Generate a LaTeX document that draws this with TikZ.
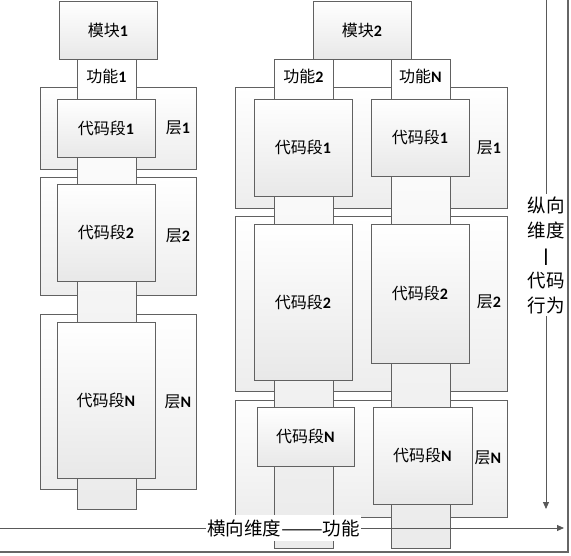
\documentclass[tikz,border=0pt]{standalone}
\usepackage{fontspec}
\usepackage{graphicx}
\setmainfont{Noto Sans CJK SC}
\setsansfont{Carlito}
\usepackage{tikz}
\usetikzlibrary{arrows.meta,positioning}
\newcommand{\nb}[1]{{\sffamily\bfseries #1}}

\begin{document}
\begin{tikzpicture}[
  x=1pt, y=-1pt,
  box/.style={draw=black!62, top color=white, bottom color=black!9,
              inner sep=0pt, font=\fontsize{16}{18}\selectfont},
  layer/.style={box, bottom color=black!7},
  strip/.style={box, bottom color=black!8},
  seg/.style={box},
  tag/.style={inner sep=1pt, font=\fontsize{16}{18}\selectfont},
  axis/.style={draw=black!65, line width=0.9pt, -{Triangle[length=7pt,width=6pt]}},
  alab/.style={fill=white, inner sep=1pt, font=\fontsize{18.5}{25}\selectfont}
]
  \useasboundingbox (0,0) rectangle (571,555);

  \node[layer, minimum width=156, minimum height=82]  (L11) at (118,128)   {};
  \node[layer, minimum width=156, minimum height=118] (L12) at (118,236)   {};
  \node[layer, minimum width=156, minimum height=175] (L1N) at (118,401.5) {};
  \node[layer, minimum width=272, minimum height=121] (L21) at (371,147.5) {};
  \node[layer, minimum width=272, minimum height=175] (L22) at (371,303.5) {};
  \node[layer, minimum width=272, minimum height=117] (L2N) at (371,458.5) {};

  \node[strip, minimum width=59, minimum height=450] (F1) at (106.5,284)   {};
  \node[strip, minimum width=59, minimum height=489] (F2) at (303.5,303.5) {};
  \node[strip, minimum width=59, minimum height=489] (FN) at (420.5,303.5) {};

  \node[seg, minimum width=98, minimum height=58]  (S11) at (106,128)   {代码段\nb{1}};
  \node[seg, minimum width=98, minimum height=97]  (S12) at (106,232.5) {代码段\nb{2}};
  \node[seg, minimum width=98, minimum height=156] (S1N) at (106,400)   {代码段\nb{N}};
  \node[seg, minimum width=98, minimum height=97]  (S21) at (303,147.5) {代码段\nb{1}};
  \node[seg, minimum width=98, minimum height=156] (S22) at (303,302)   {代码段\nb{2}};
  \node[seg, minimum width=97, minimum height=59]  (S2N) at (305.5,436.5) {代码段\nb{N}};
  \node[seg, minimum width=98, minimum height=77]  (SN1) at (420,137.5) {代码段\nb{1}};
  \node[seg, minimum width=98, minimum height=139] (SN2) at (420,293.5) {代码段\nb{2}};
  \node[seg, minimum width=99, minimum height=97]  (SNN) at (422.5,455.5) {代码段\nb{N}};

  \node[box, minimum width=98, minimum height=58] (M1) at (108,30) {模块\nb{1}};
  \node[box, minimum width=98, minimum height=58] (M2) at (362,30) {模块\nb{2}};

  \node[tag] (T1) at (106.5,76) {功能\nb{1}};
  \node[tag] (T2) at (303.5,76) {功能\nb{2}};
  \node[tag] (TN) at (420.5,76) {功能\nb{N}};

  \node[tag] (C11) at (178,128)   {层\nb{1}};
  \node[tag] (C12) at (178,236)   {层\nb{2}};
  \node[tag] (C1N) at (178,401.5) {层\nb{N}};
  \node[tag] (C21) at (489,148)   {层\nb{1}};
  \node[tag] (C22) at (489,302)   {层\nb{2}};
  \node[tag] (C2N) at (488,458)   {层\nb{N}};

  \coordinate (V0) at (546,0);
  \coordinate (V1) at (546,509);
  \coordinate (H0) at (0,528);
  \coordinate (H1) at (564,528);
  \draw[axis] (V0) -- (V1);
  \draw[axis] (H0) -- (H1);
  \node[alab, align=center, inner ysep=2pt] (VL) at (546,255)
    {纵向\\维度\\\nb{|}\\代码\\行为};
  \node[alab, inner ysep=4pt] (HL) at (283.5,528)
    {横向维度\scalebox{1.35}[1]{——}功能};

  \draw[black!60, line width=2pt] (0,551.5) -- (567.5,551.5) -- (567.5,0);
\end{tikzpicture}
\end{document}
